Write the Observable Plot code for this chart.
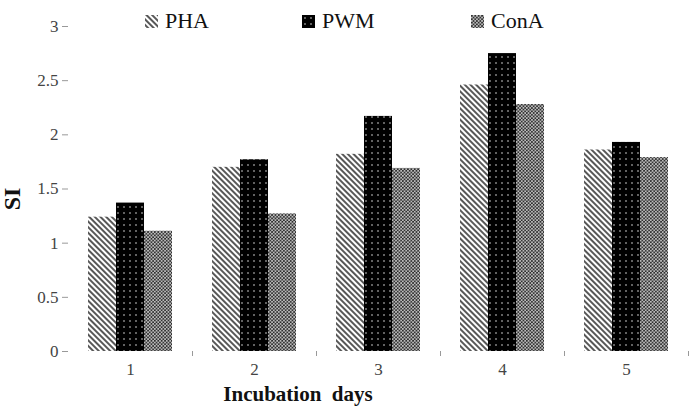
<!DOCTYPE html>
<html>
<head>
<meta charset="utf-8">
<script src="https://cdn.jsdelivr.net/npm/d3@7"></script>
<script src="https://cdn.jsdelivr.net/npm/@observablehq/plot@0.6"></script>
<style>
  html, body { margin: 0; padding: 0; background: #fff; }
  #wrap { position: relative; width: 697px; height: 407px; font-family: "Liberation Serif", "Times New Roman", serif; }
  #chart svg, #chart svg text, #chart svg g { font-family: "Liberation Serif", "Times New Roman", serif !important; }
  #legend { position: absolute; top: 8px; left: 0; width: 697px; height: 28px; font-size: 22px; color: #111; }
  #legend .item { position: absolute; display: flex; align-items: center; gap: 7px; }
  #legend svg { display: block; }
  #defs { position: absolute; width: 0; height: 0; }
</style>
</head>
<body>
<svg id="defs" width="0" height="0">
  <defs>
    <pattern id="patPHA" width="4" height="4" patternUnits="userSpaceOnUse" patternTransform="rotate(-45)">
      <rect width="4" height="4" fill="#fff"/>
      <line x1="1" y1="0" x2="1" y2="4" stroke="#3a3a3a" stroke-width="1.7"/>
    </pattern>
    <pattern id="patPWM" width="6" height="6" patternUnits="userSpaceOnUse">
      <rect width="6" height="6" fill="#000"/>
      <circle cx="3" cy="3" r="0.8" fill="#ddd"/>
    </pattern>
    <pattern id="patConA" width="3.4" height="3.4" patternUnits="userSpaceOnUse">
      <rect width="3.4" height="3.4" fill="#bdbdbd"/>
      <circle cx="0.85" cy="0.85" r="0.95" fill="#222"/>
      <circle cx="2.55" cy="2.55" r="0.95" fill="#222"/>
    </pattern>
  </defs>
</svg>
<div id="wrap">
  <div id="chart"></div>
  <div id="legend"></div>
</div>
<script>
const days = ["1", "2", "3", "4", "5"];
const series = ["PHA", "PWM", "ConA"];
const phaValues = [1.24, 1.70, 1.82, 2.46, 1.86];
const pwmValues = [1.37, 1.77, 2.17, 2.75, 1.93];
const conaValues = [1.11, 1.27, 1.69, 2.28, 1.79];
const yTicks = [0, 0.5, 1, 1.5, 2, 2.5, 3];
const fills = ["url(#patPHA)", "url(#patPWM)", "url(#patConA)"];

const valuesBySeries = {PHA: phaValues, PWM: pwmValues, ConA: conaValues};
const data = [];
days.forEach((d, i) => series.forEach(s => data.push({day: d, series: s, value: valuesBySeries[s][i]})));

const chart = Plot.plot({
  width: 697,
  height: 407,
  marginLeft: 67,
  marginRight: 9,
  marginTop: 26,
  marginBottom: 56,
  style: {fontFamily: "Liberation Serif, Times New Roman, serif", color: "#333", background: "#fff"},
  fx: {domain: days, padding: 0, axis: null},
  x: {domain: series, paddingInner: 0, paddingOuter: 0.68, axis: null},
  y: {domain: [0, 3], axis: null},
  color: {domain: series, range: fills},
  marks: [
    Plot.barY(data, {fx: "day", x: "series", y: "value", fill: "series"}),
    Plot.axisY({ticks: yTicks, tickFormat: d => String(d), tickSize: 6, tickPadding: 4, fontSize: 17, fontFamily: "Liberation Serif", stroke: "#999", color: "#444", label: null, line: true}),
    Plot.axisFx({anchor: "bottom", tickSize: 0, tickPadding: 11, fontSize: 17, fontFamily: "Liberation Serif", color: "#444", label: null, line: true, stroke: "#999"}),
    Plot.axisFx({anchor: "bottom", text: null, tickSize: 5, dx: 62, stroke: "#999", label: null})
  ]
});
document.getElementById("chart").appendChild(chart);

// axis titles as text in the svg
const svg = d3.select(chart);
svg.append("text")
  .attr("transform", "translate(12,199) rotate(-90)")
  .attr("text-anchor", "middle")
  .attr("dominant-baseline", "central")
  .attr("font-size", 24).attr("font-weight", "bold").attr("fill", "#111")
  .text("SI");
svg.append("text")
  .attr("x", 298).attr("y", 401)
  .attr("text-anchor", "middle")
  .attr("font-size", 21).attr("font-weight", "bold").attr("fill", "#111")
  .text("Incubation  days");

// legend
const legendPos = [145, 302, 471];
const legend = d3.select("#legend");
series.forEach((s, i) => {
  const item = legend.append("div").attr("class", "item").style("left", legendPos[i] + "px");
  const sw = item.append("svg").attr("width", 13).attr("height", 13);
  sw.append("rect").attr("width", 13).attr("height", 13).attr("fill", fills[i]);
  item.append("span").text(s);
});
</script>
</body>
</html>
